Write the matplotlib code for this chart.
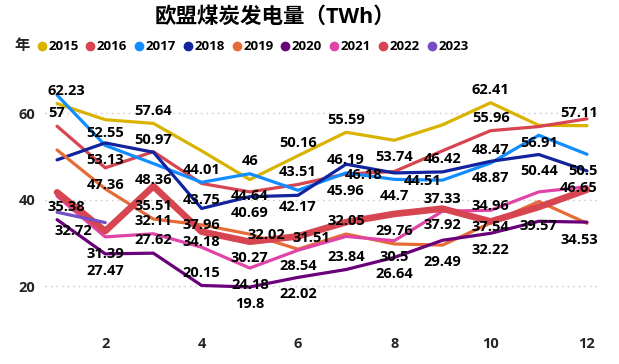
import matplotlib
matplotlib.use('Agg')
import matplotlib.pyplot as plt
from matplotlib.lines import Line2D
from matplotlib import font_manager

bold_ok = {f.name for f in font_manager.fontManager.ttflist if f.weight in (700, 'bold')}
latin = 'Open Sans' if 'Open Sans' in bold_ok else ('Roboto' if 'Roboto' in bold_ok else 'DejaVu Sans')
plt.rcParams['font.family'] = [latin, 'Noto Sans CJK SC', 'DejaVu Sans']

# ---------------- data ----------------
months = list(range(1, 13))
years = ['2015', '2016', '2017', '2018', '2019', '2020', '2021', '2022', '2023']
y2015 = [62.23, 58.5, 57.64, 51.3, 44.64, 50.16, 55.59, 53.74, 57.3, 62.41, 57.2, 57.11]
y2016 = [57, 47.36, 51.1, 43.75, 41.8, 43.51, 45.96, 46.5, 51.3, 55.96, 56.91, 58.7]
y2017 = [64.2, 52.55, 48.36, 44.01, 46, 42.17, 46.19, 44.7, 44.51, 48.47, 54.9, 50.5]
y2018 = [49.2, 53.13, 50.97, 37.96, 40.69, 41.0, 48.2, 46.18, 46.42, 48.87, 50.44, 46.65]
y2019 = [51.5, 42.5, 35.51, 34.18, 32.02, 28.54, 32.05, 29.76, 29.49, 34.6, 39.57, 34.53]
y2020 = [35.38, 27.47, 27.62, 20.15, 19.8, 22.02, 23.84, 26.64, 30.6, 32.22, 35.0, 34.8]
y2021 = [40.8, 31.39, 32.11, 29.0, 24.18, 28.3, 31.5, 30.5, 37.33, 37.54, 41.8, 43.0]
y2022 = [41.7, 32.72, 43.1, 32.6, 30.27, 31.51, 34.8, 36.7, 37.92, 34.96, 38.3, 42.3]
y2023 = [37.1, 34.7]
xticks = [2, 4, 6, 8, 10, 12]
yticks = [20, 40, 60]
title = '欧盟煤炭发电量（TWh）'

series = [y2015, y2016, y2017, y2018, y2019, y2020, y2021, y2022, y2023]

# ---------------- style ----------------
colors = ['#D9B300', '#D64550', '#118DFF', '#12239E', '#E66C37',
          '#6B007B', '#E044A7', '#D64550', '#744EC2']
widths = [2.3, 2.3, 2.3, 2.3, 2.3, 2.3, 2.3, 4.8, 2.3]

# label placement per series: month -> 'a' (above), 'b' (below) or (dx, dy) in px
A, B = 'a', 'b'
label_pos = [
    {1: A, 3: A, 5: B, 6: A, 7: A, 8: B, 10: A, 12: A},
    {1: A, 2: B, 4: B, 6: A, 7: B, 10: A, 11: B},
    {2: A, 3: B, 4: A, 5: A, 6: B, 7: A, 8: B, 9: (-20, 1), 10: A, 12: B},
    {2: B, 3: A, 4: B, 5: B, 8: (-31, 2), 9: A, 10: B, 11: B, 12: B},
    {3: A, 4: B, 5: (17, 1), 6: B, 7: A, 8: A, 9: B, 11: (0, 24), 12: B},
    {1: A, 2: B, 3: A, 4: A, 5: B, 6: B, 7: A, 8: B, 10: B},
    {2: B, 3: A, 5: B, 8: B, 9: A, 10: B},
    {2: (-32, 0), 5: B, 6: (13, 2), 9: B, 10: (0, -15)},
    {},
]

DPI = 100
W, H = 619, 364
fig = plt.figure(figsize=(W / DPI, H / DPI), dpi=DPI)
ax_l, ax_r, ax_t, ax_b = 45, 600, 80, 330
ax = fig.add_axes([ax_l / W, 1 - ax_b / H, (ax_r - ax_l) / W, (ax_b - ax_t) / H])

for vals, c, lw in zip(series, colors, widths):
    ax.plot(months[:len(vals)], vals, color=c, lw=lw, solid_joinstyle='round',
            solid_capstyle='round')

ax.set_xlim(0.75, 12.27)
ax.set_ylim(9.85, 67.68)
ax.set_xticks(xticks)
ax.set_yticks(yticks)
ax.set_xticklabels([str(t) for t in xticks])
ax.set_yticklabels([str(t) for t in yticks])
for lab in ax.get_xticklabels() + ax.get_yticklabels():
    lab.set_fontweight('bold')
    lab.set_fontsize(10.5)
    lab.set_color('#252423')
ax.tick_params(axis='both', length=0)
ax.tick_params(axis='x', pad=5)
ax.tick_params(axis='y', pad=7)
ax.yaxis.grid(True, linestyle=(0, (1, 3)), color='#C8C6C4', linewidth=1)
ax.xaxis.grid(False)
for s in ax.spines.values():
    s.set_visible(False)
ax.set_facecolor('white')

px2pt = 72 / DPI
anns = []
for vals, spec in zip(series, label_pos):
    for m, p in spec.items():
        v = vals[m - 1]
        if p == A:
            dx, dy = 0, -12.7
        elif p == B:
            dx, dy = 0, 16.7
        else:
            dx, dy = p
        txt = f'{v:g}'
        an = ax.annotate(txt, xy=(months[m - 1], v), xytext=(dx * px2pt, -dy * px2pt),
                         textcoords='offset points', ha='center', va='center',
                         fontsize=10.5, fontweight='bold', color='black', zorder=10,
                         annotation_clip=False)
        anns.append(an)

# keep labels within the plot area horizontally
fig.canvas.draw()
r = fig.canvas.get_renderer()
axbb = ax.get_window_extent(r)
for an in anns:
    bb = an.get_window_extent(r)
    shift = 0
    if bb.x0 < axbb.x0 + 3:
        shift = axbb.x0 + 3 - bb.x0
    elif bb.x1 > axbb.x1 - 2:
        shift = axbb.x1 - 2 - bb.x1
    if shift:
        ox, oy = an.xyann
        an.xyann = (ox + shift * px2pt, oy)

# title (left edge at 155 px)
fig.text(155 / W, 1 - 17.5 / H, title, ha='left', va='center',
         fontsize=15.5, fontweight='bold', color='black')

# legend
ly = 1 - 46 / H
fig.text(21.7 / W, ly, '年', ha='center', va='center', fontsize=11,
         fontweight='bold', color='#252423')
for i, (yr, c) in enumerate(zip(years, colors)):
    dxp = 41.7 + i * 48.75
    fig.add_artist(Line2D([dxp / W], [ly], marker='o', markersize=6,
                          markerfacecolor=c, markeredgecolor=c, linestyle='none',
                          transform=fig.transFigure))
    fig.text((dxp + 6.5) / W, ly, yr, ha='left', va='center', fontsize=9.5,
             fontweight='bold', color='black')

fig.savefig('out.png', dpi=DPI)
